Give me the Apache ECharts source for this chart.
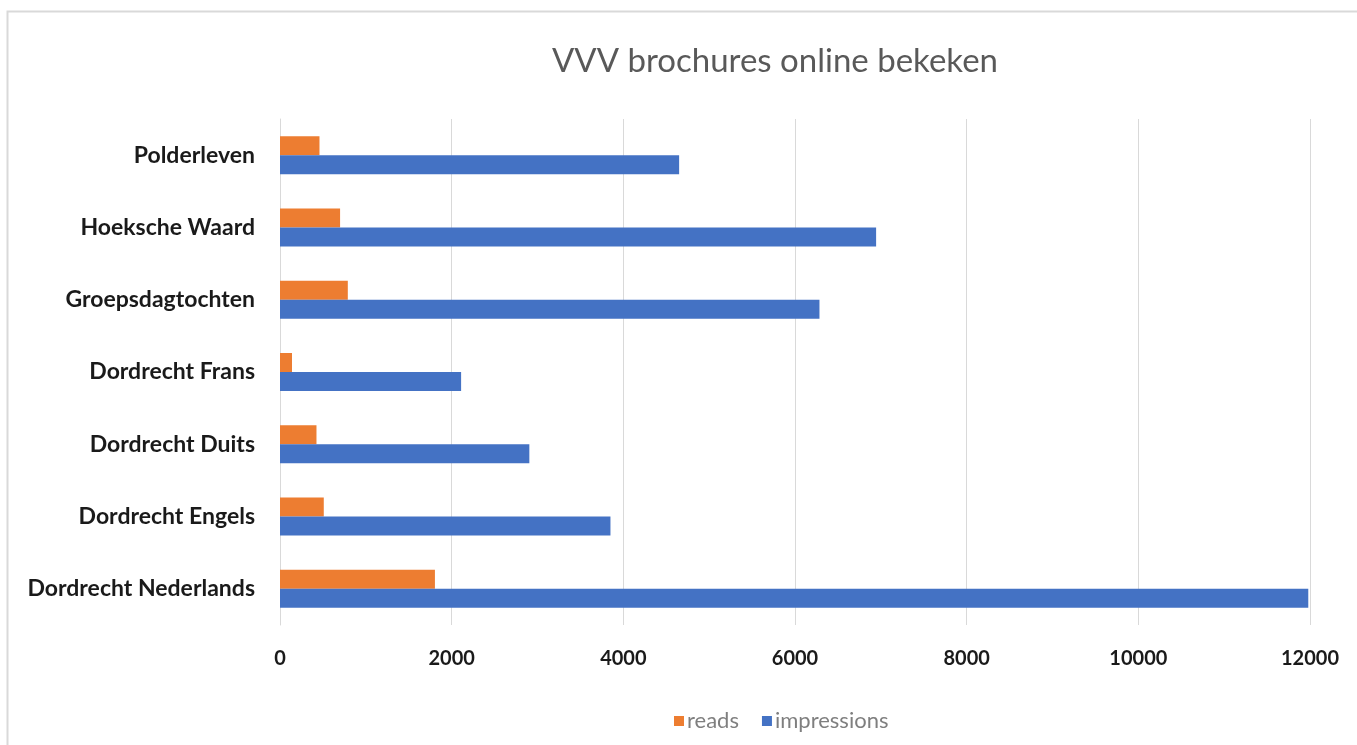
<!DOCTYPE html>
<html>
<head>
<meta charset="utf-8">
<script src="https://cdn.jsdelivr.net/npm/echarts@6/dist/echarts.min.js"></script>
<style>
html,body{margin:0;padding:0;background:#fff;}
#c{width:1357px;height:745px;}
</style>
</head>
<body>
<div id="c"></div>
<script>
const categories = ['Dordrecht Nederlands','Dordrecht Engels','Dordrecht Duits','Dordrecht Frans','Groepsdagtochten','Hoeksche Waard','Polderleven'];
const reads = [1805, 510, 425, 140, 790, 700, 460];
const impressions = [11980, 3850, 2905, 2110, 6285, 6945, 4650];
const xTicks = [0, 2000, 4000, 6000, 8000, 10000, 12000];
const seriesNames = ['reads', 'impressions'];

const chart = echarts.init(document.getElementById('c'));
chart.setOption({
  animation: false,
  backgroundColor: '#fff',
  graphic: [{
    type: 'rect',
    shape: { x: 7.5, y: 11.5, width: 1400, height: 800 },
    style: { fill: 'none', stroke: '#d9d9d9', lineWidth: 2 },
    silent: true
  }],
  title: {
    text: 'VVV brochures online bekeken',
    left: 547,
    top: 40,
    textStyle: { fontFamily: 'Lato', fontSize: 33, fontWeight: 'normal', color: '#595959' }
  },
  legend: {
    data: seriesNames,
    left: 669,
    top: 705,
    icon: 'rect',
    itemWidth: 10,
    itemHeight: 10,
    itemGap: 23,
    textStyle: { fontFamily: 'Lato', fontSize: 22, color: '#7f7f7f', padding: [0, 0, 0, -2] }
  },
  grid: { left: 280, right: 47, top: 119, bottom: 120, containLabel: false },
  xAxis: {
    type: 'value',
    min: xTicks[0],
    max: xTicks[xTicks.length - 1],
    interval: 2000,
    axisLine: { show: false },
    axisTick: { show: false },
    splitLine: { lineStyle: { color: '#d9d9d9', width: 1 } },
    axisLabel: {
      margin: 24, fontFamily: 'Lato', fontSize: 20, fontWeight: 'bold', color: '#1a1a1a',
      formatter: function (v) { return String(v); }
    }
  },
  yAxis: {
    type: 'category',
    data: categories,
    axisLine: { show: true, lineStyle: { color: '#d9d9d9', width: 1 } },
    axisTick: { show: false },
    axisLabel: { margin: 25, fontFamily: 'Lato', fontSize: 23, fontWeight: 'bold', color: '#1a1a1a' }
  },
  series: [
    { name: seriesNames[0], type: 'bar', data: reads, barWidth: 19, barGap: '0%', itemStyle: { color: '#ED7D31' } },
    { name: seriesNames[1], type: 'bar', data: impressions, barWidth: 19, barGap: '0%', itemStyle: { color: '#4472C4' } }
  ]
});
</script>
</body>
</html>
